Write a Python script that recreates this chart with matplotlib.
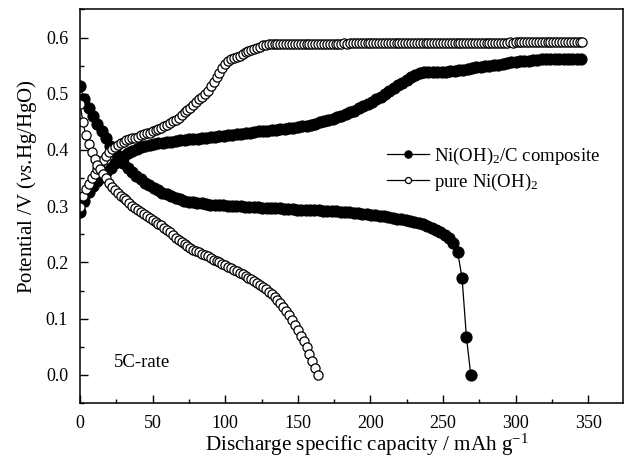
import numpy as np
import matplotlib
matplotlib.use("Agg")
import matplotlib.pyplot as plt
from matplotlib.ticker import MultipleLocator

plt.rcParams["font.family"] = ["Liberation Serif", "DejaVu Serif"]
plt.rcParams["mathtext.fontset"] = "custom"
plt.rcParams["mathtext.rm"] = "Liberation Serif"
plt.rcParams["mathtext.it"] = "Liberation Serif:italic"

# Sampling interval along the capacity axis (mAh/g)
composite_charge_step = 3.0
composite_discharge_step = 2.99
pure_step = 2.0

# Ni(OH)2/C composite, charge branch (V vs Hg/HgO)
composite_charge = [
    0.290, 0.310, 0.325, 0.336, 0.344, 0.352, 0.360, 0.368, 0.376, 0.384,
    0.390, 0.395, 0.399, 0.402, 0.405, 0.407, 0.409, 0.410, 0.412, 0.413,
    0.414, 0.415, 0.416, 0.417, 0.418, 0.419, 0.420, 0.420, 0.421, 0.422,
    0.423, 0.424, 0.425, 0.425, 0.426, 0.427, 0.428, 0.429, 0.430, 0.431,
    0.432, 0.433, 0.434, 0.434, 0.435, 0.436, 0.437, 0.438, 0.439, 0.440,
    0.441, 0.442, 0.443, 0.445, 0.447, 0.449, 0.451, 0.453, 0.455, 0.458,
    0.461, 0.464, 0.467, 0.470, 0.474, 0.478, 0.482, 0.486, 0.490, 0.495,
    0.500, 0.505, 0.510, 0.515, 0.520, 0.525, 0.530, 0.534, 0.537, 0.538,
    0.538, 0.538, 0.538, 0.539, 0.539, 0.540, 0.541, 0.542, 0.543, 0.544,
    0.545, 0.547, 0.548, 0.549, 0.550, 0.551, 0.552, 0.553, 0.555, 0.556,
    0.557, 0.558, 0.559, 0.559, 0.560, 0.560, 0.561, 0.561, 0.561, 0.562,
    0.562, 0.562, 0.562, 0.562, 0.562, 0.562,
]

# Ni(OH)2/C composite, discharge branch
composite_discharge = [
    0.513, 0.490, 0.474, 0.460, 0.446, 0.433, 0.421, 0.408, 0.396, 0.386,
    0.377, 0.368, 0.360, 0.354, 0.348, 0.342, 0.337, 0.332, 0.328, 0.324,
    0.321, 0.318, 0.315, 0.312, 0.310, 0.308, 0.307, 0.306, 0.305, 0.304,
    0.303, 0.303, 0.302, 0.302, 0.301, 0.301, 0.300, 0.300, 0.299, 0.299,
    0.298, 0.298, 0.297, 0.297, 0.297, 0.296, 0.296, 0.295, 0.295, 0.295,
    0.294, 0.294, 0.294, 0.293, 0.293, 0.293, 0.292, 0.292, 0.291, 0.291,
    0.290, 0.290, 0.289, 0.288, 0.288, 0.287, 0.286, 0.285, 0.284, 0.283,
    0.282, 0.281, 0.279, 0.278, 0.277, 0.275, 0.274, 0.272, 0.270, 0.268,
    0.265, 0.262, 0.258, 0.254, 0.249, 0.243, 0.234, 0.218, 0.172, 0.068,
    0.000,
]

# pure Ni(OH)2, charge branch
pure_charge = [
    0.298, 0.318, 0.330, 0.340, 0.350, 0.358, 0.367, 0.376, 0.383, 0.390,
    0.396, 0.401, 0.405, 0.409, 0.412, 0.415, 0.418, 0.420, 0.421, 0.422,
    0.424, 0.426, 0.428, 0.430, 0.431, 0.433, 0.435, 0.437, 0.440, 0.442,
    0.445, 0.448, 0.451, 0.454, 0.457, 0.462, 0.467, 0.471, 0.475, 0.480,
    0.485, 0.490, 0.494, 0.499, 0.505, 0.513, 0.521, 0.529, 0.537, 0.545,
    0.553, 0.558, 0.561, 0.564, 0.566, 0.568, 0.571, 0.574, 0.576, 0.578,
    0.580, 0.582, 0.584, 0.586, 0.587, 0.588, 0.588, 0.588, 0.588, 0.588,
    0.588, 0.588, 0.588, 0.588, 0.588, 0.588, 0.589, 0.588, 0.589, 0.589,
    0.589, 0.589, 0.589, 0.589, 0.589, 0.589, 0.589, 0.589, 0.589, 0.589,
    0.589, 0.590, 0.589, 0.590, 0.590, 0.590, 0.590, 0.590, 0.590, 0.590,
    0.590, 0.590, 0.590, 0.590, 0.590, 0.590, 0.590, 0.590, 0.590, 0.590,
    0.590, 0.590, 0.590, 0.590, 0.590, 0.590, 0.590, 0.591, 0.590, 0.591,
    0.591, 0.591, 0.591, 0.591, 0.591, 0.591, 0.591, 0.591, 0.591, 0.591,
    0.591, 0.591, 0.591, 0.591, 0.591, 0.591, 0.591, 0.591, 0.591, 0.591,
    0.591, 0.591, 0.591, 0.591, 0.591, 0.591, 0.591, 0.591, 0.592, 0.591,
    0.592, 0.592, 0.592, 0.592, 0.592, 0.592, 0.592, 0.592, 0.592, 0.592,
    0.592, 0.592, 0.592, 0.592, 0.592, 0.592, 0.592, 0.592, 0.592, 0.592,
    0.592, 0.592, 0.592, 0.592,
]

# pure Ni(OH)2, discharge branch
pure_discharge = [
    0.482, 0.450, 0.426, 0.410, 0.396, 0.384, 0.374, 0.366, 0.358, 0.350,
    0.342, 0.335, 0.329, 0.323, 0.319, 0.315, 0.311, 0.306, 0.301, 0.297,
    0.293, 0.289, 0.286, 0.282, 0.279, 0.275, 0.272, 0.269, 0.266, 0.262,
    0.258, 0.254, 0.248, 0.244, 0.240, 0.236, 0.232, 0.229, 0.226, 0.223,
    0.221, 0.218, 0.215, 0.213, 0.211, 0.208, 0.205, 0.202, 0.200, 0.197,
    0.195, 0.192, 0.190, 0.187, 0.184, 0.182, 0.179, 0.176, 0.173, 0.170,
    0.167, 0.163, 0.160, 0.156, 0.152, 0.147, 0.143, 0.138, 0.133, 0.127,
    0.120, 0.113, 0.106, 0.097, 0.088, 0.079, 0.070, 0.061, 0.050, 0.037,
    0.025, 0.012, 0.000,
]

x_ticks = [0, 50, 100, 150, 200, 250, 300, 350]
y_ticks = [0.0, 0.1, 0.2, 0.3, 0.4, 0.5, 0.6]

label_composite = r"Ni(OH)$_2$/C composite"
label_pure = r"pure Ni(OH)$_2$"


def capacity(values, step):
    return np.arange(len(values)) * step


fig = plt.figure(figsize=(6.3, 4.63), dpi=100)
ax = fig.add_axes([0.127, 0.1296, 0.862, 0.850])

filled = dict(color="black", lw=0.9, marker="o", ms=8.0,
              mfc="black", mec="black", mew=0.8)
hollow = dict(color="black", lw=0.9, marker="o", ms=6.6,
              mfc="white", mec="black", mew=0.9)

ax.plot(capacity(composite_charge, composite_charge_step), composite_charge,
        label=label_composite, **filled)
ax.plot(capacity(composite_discharge, composite_discharge_step),
        composite_discharge, **filled)
ax.plot(capacity(pure_charge, pure_step), pure_charge,
        label=label_pure, **hollow)
ax.plot(capacity(pure_discharge, pure_step), pure_discharge, **hollow)

ax.set_xlim(0, 374)
ax.set_ylim(-0.05, 0.65)
ax.set_xticks(x_ticks)
ax.set_yticks(y_ticks)
ax.set_yticklabels([f"{v:.1f}" for v in y_ticks])
ax.xaxis.set_minor_locator(MultipleLocator(25))
ax.yaxis.set_minor_locator(MultipleLocator(0.05))
ax.tick_params(which="both", direction="in", top=False, right=False,
               labelsize=13, width=1.0)
ax.tick_params(which="major", length=6)
ax.tick_params(which="minor", length=3)
ax.tick_params(axis="x", pad=9)
ax.tick_params(axis="y", pad=8.5)
for s in ax.spines.values():
    s.set_linewidth(1.1)

ax.set_xlabel(r"Discharge specific capacity / mAh g$^{-1}$", fontsize=15.2)
ax.xaxis.set_label_coords(0.529, -0.072)
ax.xaxis.label.set_va("top")
ax.set_ylabel(r"Potential /V ($\mathit{vs}$.Hg/HgO)", fontsize=15)
ax.yaxis.set_label_coords(-0.098, 0.549)
ax.yaxis.label.set_va("center")

ax.text(0.063, 0.102, "5C-rate", transform=ax.transAxes, fontsize=13.5,
        va="center", ha="left")

ax.legend(loc="upper left", bbox_to_anchor=(0.552, 0.673), frameon=False,
          fontsize=13.5, handlelength=2.2, handletextpad=0.3,
          labelspacing=0.25, markerscale=0.66, borderaxespad=0)

fig.savefig("out.png", dpi=100)
